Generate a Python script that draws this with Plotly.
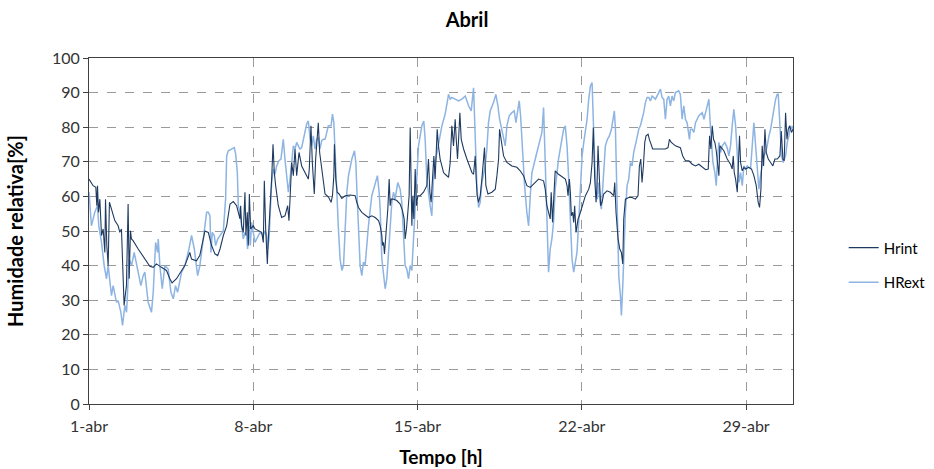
import plotly.graph_objects as go

# April relative humidity, indoor (Hrint) vs outdoor (HRext); x = hours since 1 April 00:00
hrint_hours = [
    0, 4.2, 7.0, 8.0, 8.7, 9.7, 11.1, 12.8, 14.5, 16.2, 16.9, 18.2, 19.6, 20.9, 23.0, 26.4, 29.8, 31.5, 33.2, 34.9,
    35.9, 38.3, 40.0, 41.1, 42.4, 43.4, 45.1, 50.3, 57.1, 62.2, 65.6, 69.0, 74.1, 79.2, 82.7, 85.0, 89.5, 94.6, 98.0, 103.1,
    104.8, 109.9, 113.3, 118.6, 122.0, 125.4, 128.8, 131.6, 134.0, 137.4, 140.8, 144.2, 147.6, 151.0, 152.7, 154.4, 155.1, 156.1, 157.8, 158.8,
    159.5, 160.5, 161.9, 162.9, 164.0, 165.3, 168.0, 169.8, 173.2, 176.6, 178.3, 179.3, 180.7, 182.4, 183.4, 185.1, 186.8, 188.2, 189.5, 190.9,
    193.6, 197.0, 200.4, 203.2, 204.5, 205.6, 207.3, 209.0, 210.7, 212.4, 214.8, 217.5, 220.9, 224.3, 225.3, 227.0, 228.4, 230.4, 231.8, 233.5,
    234.5, 235.9, 237.9, 239.7, 241.4, 244.9, 247.6, 249.0, 250.4, 251.0, 252.4, 253.8, 255.8, 258.6, 262.0, 267.1, 272.2, 273.9, 275.6, 279.0,
    282.4, 285.8, 289.2, 292.7, 296.1, 297.8, 299.5, 300.2, 301.2, 302.2, 303.6, 304.6, 305.6, 307.0, 308.0, 309.0, 311.4, 314.8, 318.2, 320.6,
    322.3, 323.3, 324.7, 326.1, 327.4, 328.5, 329.5, 330.2, 331.2, 332.2, 333.6, 334.9, 336.3, 338.7, 342.1, 345.5, 347.2, 348.6, 349.9, 351.3,
    352.7, 354.0, 355.1, 356.1, 357.4, 359.1, 360.9, 362.6, 364.3, 367.7, 369.4, 371.1, 372.8, 374.5, 375.6, 376.9, 378.0, 379.3, 380.7, 383.1,
    386.5, 389.9, 391.6, 393.3, 395.0, 396.0, 397.0, 398.4, 400.1, 401.8, 403.5, 404.5, 405.9, 408.0, 412.0, 415.5, 417.2, 418.9, 419.9, 421.6,
    424.0, 427.4, 432.5, 437.6, 441.0, 444.4, 447.8, 451.3, 454.7, 459.8, 464.9, 466.6, 468.3, 470.0, 471.7, 472.7, 474.1, 475.1, 476.8, 480.2,
    485.4, 487.2, 488.9, 489.9, 491.3, 492.3, 493.3, 494.7, 495.7, 496.7, 498.1, 499.1, 500.2, 501.5, 504.3, 507.7, 511.1, 512.8, 514.5, 515.8,
    517.2, 518.6, 519.6, 520.6, 522.0, 523.3, 524.7, 526.4, 529.8, 533.2, 536.6, 537.7, 539.0, 541.1, 542.8, 544.5, 545.9, 546.9, 548.6, 552.0,
    555.4, 558.8, 561.5, 562.9, 564.3, 565.6, 567.0, 568.4, 569.7, 571.8, 573.1, 575.2, 576.5, 582.7, 589.5, 592.2, 593.6, 595.6, 599.7, 604.8,
    607.2, 610.0, 613.5, 616.9, 620.3, 623.7, 627.2, 630.6, 633.3, 634.7, 636.0, 637.4, 638.7, 640.1, 641.5, 642.8, 644.2, 645.2, 646.9, 649.3,
    652.7, 656.1, 657.8, 658.9, 659.9, 661.3, 663.0, 664.0, 665.3, 666.4, 668.1, 669.8, 671.5, 674.9, 677.6, 680.0, 682.4, 684.4, 685.8, 687.2,
    688.5, 689.9, 691.3, 692.6, 694.7, 697.1, 699.4, 701.5, 703.9, 706.6, 708.0, 709.7, 711.0, 712.4, 713.8, 715.1, 716.5, 718.5, 720.0,
]
hrint_values = [
    65.0, 63.1, 62.6, 57.3, 63.1, 55.4, 59.2, 48.7, 50.6, 43.8, 59.2, 45.8, 40.0, 58.3, 56.3, 53.0, 51.5, 49.6, 50.6, 31.3,
    28.5, 34.2, 57.8, 36.2, 50.1, 47.7, 47.2, 44.8, 41.9, 39.8, 39.5, 40.5, 39.5, 38.6, 36.2, 35.0, 36.2, 38.6, 40.0, 43.8,
    41.9, 41.4, 42.9, 50.0, 49.6, 45.8, 43.4, 42.9, 44.8, 48.7, 51.5, 57.8, 58.5, 57.3, 55.4, 53.5, 57.3, 51.5, 49.6, 55.4,
    61.2, 48.7, 55.4, 45.8, 60.7, 50.6, 51.5, 50.6, 50.1, 49.6, 46.7, 64.5, 50.6, 40.5, 47.7, 55.4, 65.0, 75.1, 66.9, 63.1,
    57.3, 53.9, 54.4, 57.3, 53.0, 59.2, 69.8, 66.0, 73.7, 66.0, 72.7, 68.8, 66.9, 65.0, 67.9, 80.4, 69.8, 60.7, 70.8, 77.5,
    81.3, 72.7, 68.8, 65.0, 60.7, 59.8, 58.3, 60.2, 66.0, 75.1, 65.0, 61.2, 60.7, 59.4, 60.2, 60.4, 60.2, 58.3, 56.8, 55.4,
    54.6, 53.9, 54.4, 53.9, 53.0, 51.5, 48.7, 45.8, 46.7, 43.4, 48.7, 51.5, 56.3, 65.0, 57.3, 59.2, 59.2, 58.8, 57.8, 55.9,
    53.5, 47.7, 50.6, 55.4, 60.2, 79.9, 65.0, 51.5, 60.2, 53.5, 67.9, 57.3, 60.2, 60.2, 61.2, 63.1, 70.8, 61.2, 58.3, 66.0,
    71.7, 65.0, 72.7, 79.4, 74.6, 70.8, 68.8, 66.9, 66.4, 65.5, 69.8, 80.4, 74.6, 82.3, 76.5, 70.8, 76.5, 84.2, 76.5, 73.7,
    70.8, 67.9, 66.9, 66.4, 71.7, 65.0, 60.2, 58.3, 60.2, 65.0, 72.7, 74.1, 63.1, 60.7, 61.2, 62.1, 66.0, 70.8, 79.4, 76.5,
    71.7, 69.8, 68.8, 68.4, 67.4, 66.0, 63.1, 62.6, 63.6, 65.0, 64.5, 62.1, 57.3, 55.4, 53.5, 61.2, 52.5, 58.3, 67.4, 66.4,
    65.5, 65.0, 63.1, 60.2, 65.0, 61.2, 54.4, 55.4, 52.5, 57.3, 49.6, 51.5, 53.5, 54.4, 57.3, 60.2, 62.1, 64.0, 69.8, 79.9,
    65.0, 58.3, 63.1, 74.6, 65.0, 57.3, 58.3, 60.7, 61.6, 61.2, 60.2, 64.0, 55.4, 47.7, 44.8, 43.8, 40.5, 53.5, 59.2, 59.7,
    59.7, 59.2, 60.2, 68.8, 70.8, 64.0, 68.8, 75.6, 77.5, 78.0, 76.5, 75.1, 73.7, 73.7, 73.7, 74.1, 76.5, 75.6, 74.6, 74.1,
    71.7, 70.3, 70.3, 69.3, 68.8, 69.3, 68.4, 67.7, 67.9, 77.5, 73.7, 80.4, 76.5, 75.6, 73.2, 69.8, 66.0, 74.6, 74.1, 73.2,
    70.8, 69.3, 67.9, 71.7, 66.9, 65.0, 61.2, 69.8, 77.5, 69.8, 67.4, 68.4, 67.9, 68.4, 67.9, 66.0, 63.1, 58.3, 56.8, 62.1,
    74.6, 68.8, 79.4, 72.7, 70.8, 69.8, 68.8, 70.8, 70.8, 71.7, 78.9, 70.8, 70.3, 84.2, 76.5, 79.4, 80.4, 78.5, 79.4,
]

hrext_hours = [
    0, 2.5, 5.9, 8.7, 10.0, 12.8, 15.5, 17.9, 19.6, 23.0, 24.7, 28.1, 29.8, 32.6, 34.3, 36.7, 38.4, 39.4, 41.1, 43.5,
    46.2, 50.3, 53.0, 55.4, 57.1, 60.5, 63.9, 65.7, 68.1, 70.1, 70.8, 72.5, 74.9, 77.6, 81.0, 83.8, 86.2, 88.5, 90.6, 94.7,
    98.1, 102.2, 104.9, 107.7, 111.1, 113.4, 116.9, 120.3, 122.0, 123.7, 124.7, 126.1, 128.1, 129.5, 131.6, 134.0, 137.4, 139.7, 140.8, 142.5,
    145.9, 148.6, 150.0, 151.7, 152.7, 154.4, 156.1, 157.8, 159.5, 161.2, 162.2, 163.6, 165.0, 166.3, 168.0, 169.8, 171.5, 174.9, 178.3, 180.0,
    181.7, 182.7, 184.1, 185.4, 186.8, 188.5, 190.2, 191.9, 194.3, 196.3, 198.7, 200.4, 202.1, 203.9, 205.6, 207.3, 209.0, 210.7, 212.4, 214.1,
    215.8, 217.5, 219.2, 220.9, 222.6, 224.3, 226.0, 227.7, 229.4, 231.1, 232.8, 234.5, 236.2, 238.0, 239.7, 241.4, 243.1, 244.8, 247.6, 249.0,
    250.4, 251.7, 253.4, 255.1, 256.8, 258.6, 260.3, 262.0, 263.7, 265.4, 268.8, 271.5, 272.9, 274.2, 275.6, 277.3, 279.0, 280.7, 282.4, 285.8,
    289.2, 292.7, 295.0, 296.7, 297.8, 299.5, 301.2, 302.9, 304.6, 306.3, 308.0, 309.7, 311.4, 313.1, 315.8, 318.2, 319.9, 321.6, 323.3, 325.0,
    326.8, 328.5, 330.2, 331.9, 333.6, 335.3, 337.0, 338.7, 340.4, 342.4, 343.8, 345.5, 347.2, 348.9, 350.6, 352.3, 354.0, 357.4, 360.9, 364.3,
    367.7, 369.4, 371.1, 374.5, 378.0, 381.4, 384.8, 388.2, 390.9, 393.3, 395.0, 396.7, 398.4, 400.1, 401.8, 403.5, 405.2, 406.9, 408.6, 410.3,
    413.7, 416.1, 418.2, 419.9, 422.3, 425.7, 427.4, 429.8, 432.5, 434.9, 436.6, 438.6, 440.0, 441.4, 443.4, 445.5, 447.8, 449.6, 451.3, 453.0,
    456.4, 459.8, 463.2, 464.9, 466.6, 468.3, 469.3, 470.0, 471.7, 473.4, 475.1, 476.8, 480.2, 483.7, 485.4, 487.1, 488.9, 490.6, 492.3, 494.0,
    495.7, 497.4, 499.1, 500.8, 502.5, 504.3, 506.0, 507.7, 509.4, 511.1, 512.8, 514.5, 515.8, 517.2, 518.6, 519.9, 521.3, 522.7, 524.0, 525.4,
    526.8, 528.1, 530.2, 532.2, 534.3, 536.0, 537.3, 538.4, 540.1, 541.8, 543.5, 544.5, 545.9, 547.2, 548.6, 550.3, 552.0, 553.7, 555.4, 557.1,
    558.8, 560.5, 562.2, 563.9, 565.6, 567.3, 569.0, 570.7, 572.5, 574.2, 575.9, 579.3, 582.7, 584.4, 586.1, 587.8, 589.5, 591.2, 592.9, 594.6,
    596.3, 598.0, 599.7, 603.1, 604.8, 606.6, 608.3, 610.0, 611.7, 614.1, 615.1, 616.9, 618.6, 620.3, 623.7, 627.2, 628.9, 631.2, 634.0, 635.3,
    636.7, 638.1, 640.1, 641.5, 642.8, 644.2, 645.9, 647.6, 650.3, 652.7, 654.4, 656.1, 657.8, 659.5, 661.3, 663.0, 664.7, 666.4, 668.1, 669.8,
    671.5, 673.2, 674.9, 676.6, 680.0, 681.7, 683.4, 685.1, 686.8, 688.5, 690.2, 691.9, 693.6, 695.4, 697.1, 698.8, 700.5, 702.2, 703.9, 704.9,
    706.3, 708.3, 710.0, 711.4, 712.4, 714.1, 715.8, 717.5, 719.2, 720.0,
]
hrext_values = [
    61.2, 51.5, 55.4, 57.3, 51.5, 46.7, 40.0, 36.2, 40.0, 31.3, 34.2, 29.4, 29.9, 26.5, 22.7, 28.5, 26.5, 32.3, 41.9, 40.0,
    43.8, 38.1, 34.2, 37.1, 38.1, 29.4, 26.5, 32.3, 46.7, 43.8, 47.7, 40.0, 33.3, 40.0, 39.0, 32.3, 30.4, 34.2, 32.3, 38.1,
    40.0, 44.8, 48.7, 44.8, 37.1, 40.0, 48.7, 55.4, 55.4, 54.4, 43.8, 49.6, 48.7, 45.8, 47.7, 48.7, 50.1, 59.2, 71.7, 73.2,
    73.7, 74.1, 72.2, 66.9, 57.3, 55.4, 51.5, 47.7, 49.6, 48.7, 44.8, 51.5, 45.8, 52.5, 49.6, 46.7, 47.7, 49.6, 48.7, 50.1,
    48.7, 44.8, 47.7, 55.4, 64.0, 67.9, 66.4, 68.8, 70.3, 70.8, 76.5, 70.8, 65.0, 61.2, 65.0, 70.8, 74.6, 73.7, 75.6, 74.6,
    73.7, 74.1, 76.5, 79.4, 80.9, 81.8, 77.0, 74.6, 77.5, 73.7, 76.5, 77.0, 73.7, 76.1, 76.5, 76.5, 78.5, 80.4, 80.4, 83.8,
    81.3, 71.7, 60.2, 50.6, 41.9, 38.6, 40.0, 50.6, 61.2, 66.0, 70.8, 73.2, 69.8, 60.2, 49.6, 40.0, 37.1, 41.0, 40.0, 51.5,
    60.2, 64.0, 66.0, 61.2, 56.3, 41.9, 38.1, 33.3, 36.2, 43.8, 51.5, 58.3, 61.2, 59.2, 64.0, 62.1, 58.3, 48.7, 40.0, 39.0,
    36.2, 40.0, 38.6, 47.7, 57.3, 67.9, 74.6, 77.5, 80.4, 81.8, 76.5, 65.0, 60.2, 57.3, 54.4, 65.0, 69.8, 74.6, 80.4, 83.8,
    89.5, 88.1, 88.6, 88.1, 87.6, 88.1, 89.0, 86.2, 84.7, 91.4, 74.6, 63.1, 56.8, 58.3, 64.0, 66.0, 68.8, 73.7, 81.3, 84.7,
    87.1, 89.5, 86.2, 82.3, 79.4, 74.6, 80.4, 83.3, 84.2, 84.7, 81.3, 85.2, 87.6, 83.3, 71.7, 63.1, 55.4, 51.5, 60.2, 66.9,
    70.8, 74.6, 78.5, 85.7, 69.8, 53.5, 45.8, 38.1, 44.8, 47.7, 52.5, 62.1, 70.8, 76.5, 79.4, 80.4, 74.6, 65.0, 52.5, 41.9,
    38.1, 41.0, 43.8, 52.5, 64.0, 71.7, 75.6, 78.5, 82.3, 88.1, 91.9, 92.9, 79.4, 69.8, 62.1, 59.2, 64.0, 58.3, 56.3, 63.1,
    69.8, 74.6, 76.5, 77.5, 79.4, 82.3, 84.7, 79.4, 53.5, 37.1, 31.3, 25.6, 34.2, 47.7, 55.4, 63.1, 65.0, 69.8, 68.8, 72.7,
    74.6, 77.0, 79.4, 80.4, 82.3, 84.2, 87.1, 88.6, 88.6, 87.6, 89.0, 88.1, 90.0, 91.0, 88.6, 88.1, 82.3, 88.1, 89.0, 86.2,
    89.0, 87.6, 90.0, 90.5, 89.5, 82.3, 86.2, 82.3, 81.3, 76.5, 79.4, 79.4, 78.5, 81.3, 83.3, 84.2, 82.3, 85.2, 88.1, 81.3,
    76.5, 69.8, 66.9, 63.1, 70.8, 75.6, 72.7, 74.6, 75.6, 74.1, 71.7, 74.6, 80.4, 85.2, 80.4, 69.8, 64.0, 66.9, 63.1, 68.8,
    67.9, 68.8, 68.4, 67.9, 81.3, 74.6, 66.0, 62.1, 66.0, 68.8, 71.7, 72.7, 74.6, 77.5, 79.4, 82.3, 85.2, 88.1, 89.5, 89.5,
    82.3, 71.7, 69.8, 70.8, 71.7, 75.6, 77.5, 80.4, 79.4, 80.4,
]

week_ticks = [0, 168, 336, 504, 672]
week_labels = ["1-abr", "8-abr", "15-abr", "22-abr", "29-abr"]

FONT = "Lato, 'Open Sans', sans-serif"
DARK = "#1f3a60"
LIGHT = "#8db4e2"

fig = go.Figure()
fig.add_trace(go.Scatter(
    x=hrext_hours, y=hrext_values, name="HRext", mode="lines",
    line=dict(color=LIGHT, width=1.5), legendgroup="b", legendrank=2,
))
fig.add_trace(go.Scatter(
    x=hrint_hours, y=hrint_values, name="Hrint", mode="lines",
    line=dict(color=DARK, width=1.1), legendgroup="a", legendrank=1,
))

axis_common = dict(
    showline=True, linecolor="#404040", linewidth=1, mirror=True,
    ticks="outside", ticklen=5, tickcolor="#404040",
    showgrid=True, gridcolor="#9a9a9a", gridwidth=1, griddash="dash",
    zeroline=False, tickfont=dict(family=FONT, size=16, color="#333333"),
)

fig.update_layout(
    width=934, height=469,
    margin=dict(l=89, r=141, t=58, b=65, autoexpand=False),
    paper_bgcolor="white", plot_bgcolor="white",
    font=dict(family=FONT, color="#000000"),
    title=dict(text="<b>Abril</b>", x=0.5, xanchor="center", y=0.957, yanchor="middle",
               font=dict(family=FONT, size=20, color="#000000")),
    xaxis=dict(
        range=[0, 720], tickmode="array", tickvals=week_ticks, ticktext=week_labels,
        ticklabelstandoff=3,
        title=dict(text="<b>Tempo [h]</b>", font=dict(family=FONT, size=19, color="#000000"), standoff=16),
        **axis_common,
    ),
    yaxis=dict(
        range=[0, 100], dtick=10, tick0=0,
        title=dict(text="<b>Humidade relativa[%]</b>", font=dict(family=FONT, size=20, color="#000000"), standoff=22),
        **axis_common,
    ),
    legend=dict(
        x=1.072, xanchor="left", y=0.402, yanchor="middle",
        traceorder="grouped", tracegroupgap=12,
        font=dict(family=FONT, size=15, color="#000000"),
        bgcolor="rgba(0,0,0,0)",
    ),
    showlegend=True,
)

fig.write_html("out.html")
